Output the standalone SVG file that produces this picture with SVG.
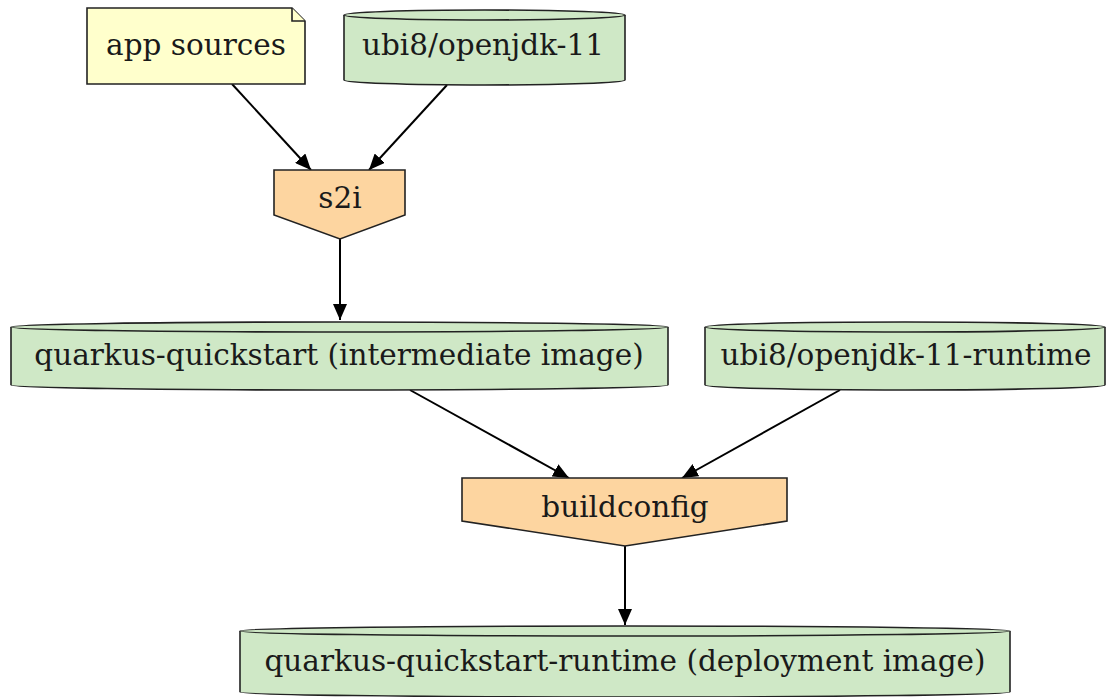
<svg xmlns="http://www.w3.org/2000/svg" width="1107" height="697" viewBox="0 0 1107 697">
<style>
.t{font-family:"DejaVu Serif","Liberation Serif",serif;font-size:29.5px;fill:#1a1a1a;text-anchor:middle}
.cyl{fill:#cfe8c6;stroke:#222;stroke-width:1.6}
.proc{fill:#fdd5a0;stroke:#222;stroke-width:1.6}
.note{fill:#ffffcc;stroke:#222;stroke-width:1.6}
.e{stroke:#000;stroke-width:2;fill:none}
</style>
<defs>
<marker id="ah" viewBox="0 0 16 14" refX="16" refY="7" markerWidth="16" markerHeight="14" markerUnits="userSpaceOnUse" orient="auto"><path d="M0,0 L16,7 L0,14 Z" fill="#000"/></marker>
</defs>
<rect width="1107" height="697" fill="#fff"/>
<g id="edges">
<line class="e" x1="232" y1="84" x2="311" y2="170" marker-end="url(#ah)"/>
<line class="e" x1="447" y1="85" x2="369" y2="170" marker-end="url(#ah)"/>
<line class="e" x1="340" y1="239" x2="340" y2="320" marker-end="url(#ah)"/>
<line class="e" x1="410" y1="390" x2="569" y2="478" marker-end="url(#ah)"/>
<line class="e" x1="840" y1="390" x2="682" y2="478" marker-end="url(#ah)"/>
<line class="e" x1="625" y1="546" x2="625" y2="625" marker-end="url(#ah)"/>
</g>
<g id="app_sources">
<path class="note" d="M87,8 H292 L305,21 V84 H87 Z"/>
<path class="note" d="M292,8 V21 H305" fill="none"/>
<text class="t" x="196" y="55">app sources</text>
</g>
<g id="ubi8_openjdk11">
<path class="cyl" d="M344,15 A140.5,5 0 0 1 625,15 V80 A140.5,5 0 0 1 344,80 Z"/>
<path class="cyl" d="M344,15 A140.5,5 0 0 0 625,15" fill="none"/>
<text class="t" x="483" y="55">ubi8/openjdk-11</text>
</g>
<g id="s2i">
<polygon class="proc" points="274,170 405,170 405,215 340,239 274,215"/>
<text class="t" x="340" y="208">s2i</text>
</g>
<g id="quarkus_quickstart">
<path class="cyl" d="M11,327 A328.5,5 0 0 1 668,327 V385 A328.5,5 0 0 1 11,385 Z"/>
<path class="cyl" d="M11,327 A328.5,5 0 0 0 668,327" fill="none"/>
<text class="t" x="339" y="365">quarkus-quickstart (intermediate image)</text>
</g>
<g id="ubi8_openjdk11_runtime">
<path class="cyl" d="M705,327 A200,5 0 0 1 1105,327 V385 A200,5 0 0 1 705,385 Z"/>
<path class="cyl" d="M705,327 A200,5 0 0 0 1105,327" fill="none"/>
<text class="t" x="906" y="365">ubi8/openjdk-11-runtime</text>
</g>
<g id="buildconfig">
<polygon class="proc" points="462,478 787,478 787,521 625,546 462,521"/>
<text class="t" x="625" y="517">buildconfig</text>
</g>
<g id="quarkus_quickstart_runtime">
<path class="cyl" d="M240,631 A385,5 0 0 1 1010,631 V692 A385,5 0 0 1 240,692 Z"/>
<path class="cyl" d="M240,631 A385,5 0 0 0 1010,631" fill="none"/>
<text class="t" x="625" y="671">quarkus-quickstart-runtime (deployment image)</text>
</g>
</svg>
